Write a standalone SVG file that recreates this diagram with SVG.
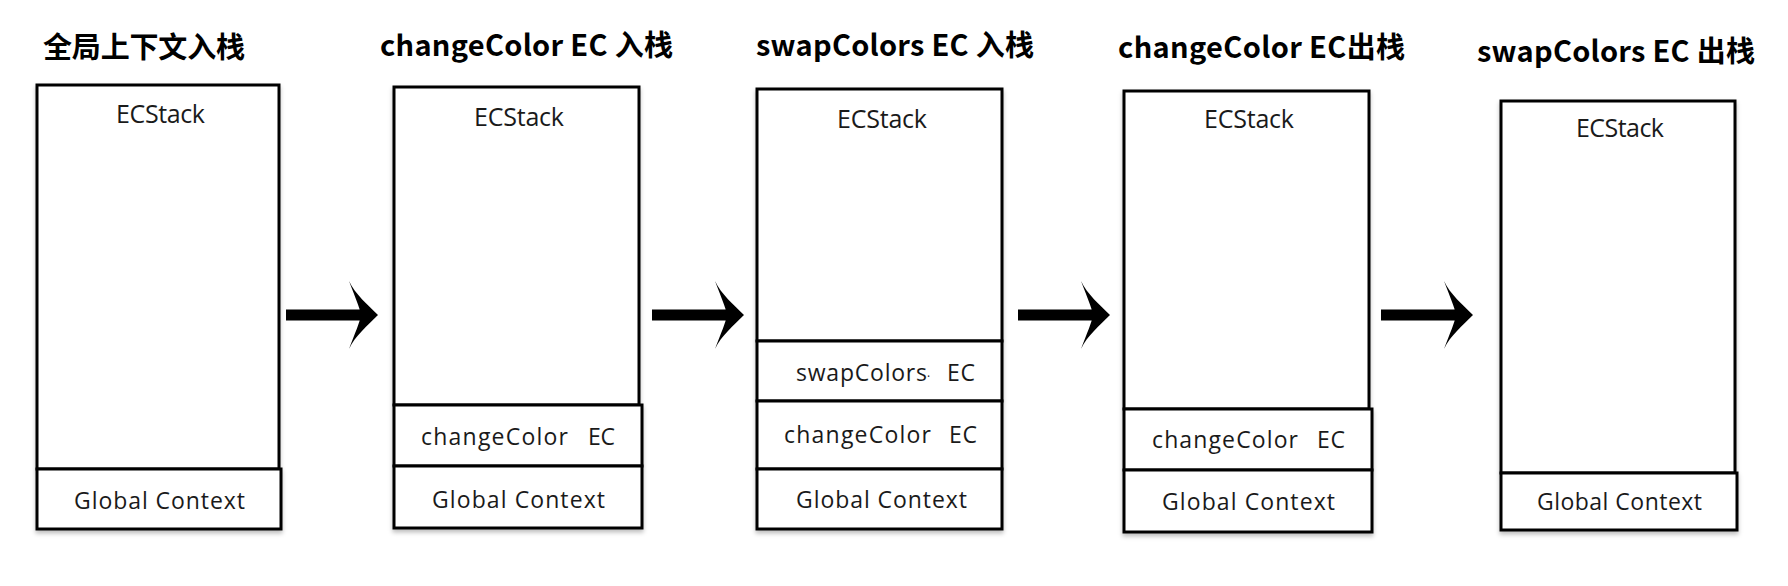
<svg xmlns="http://www.w3.org/2000/svg" width="1788" height="586" viewBox="0 0 1788 586">
<style>
.bg{fill:#ffffff}
.box{fill:#ffffff;stroke:#000;stroke-width:3}
.title{font-family:"Noto Sans CJK SC","Noto Sans",sans-serif;font-weight:bold;font-size:29px;fill:#000}
.lbl{font-family:"Open Sans","Noto Sans",sans-serif;font-size:23px;font-weight:500;fill:#1a1a1a}
.hd{font-size:25px}
.arrow{fill:#000}
</style>
<defs>
<filter id="sh" x="-10%" y="-10%" width="120%" height="120%">
<feDropShadow dx="0" dy="3" stdDeviation="2" flood-color="#000" flood-opacity="0.25"/>
</filter>
<path id="arr" d="M0,-5.5 L0,5.5 L80,5.5 L80,-5.5 Z M92,0 C82,-10 69,-21 63,-34 C69,-18 74,-7 75,0 C74,7 69,18 63,34 C69,21 82,10 92,0 Z"/>
</defs>
<rect class="bg" x="0" y="0" width="1788" height="586"/>

<g id="stage1">
<text class="title" x="43" y="58" textLength="202">全局上下文入栈</text>
<g filter="url(#sh)">
<rect class="box" x="37" y="85" width="242" height="384"/>
<rect class="box" x="37" y="469" width="244" height="60"/>
</g>
<text class="lbl hd" x="116" y="123" textLength="89">ECStack</text>
<text class="lbl" x="74" y="509" textLength="171">Global Context</text>
</g>

<g id="stage2">
<text class="title" x="380" y="56" textLength="293">changeColor EC 入栈</text>
<g filter="url(#sh)">
<rect class="box" x="394" y="87" width="245" height="318"/>
<rect class="box" x="394" y="405" width="248" height="61"/>
<rect class="box" x="394" y="466" width="248" height="62"/>
</g>
<text class="lbl hd" x="474" y="126" textLength="90">ECStack</text>
<text class="lbl" y="445"><tspan x="421" textLength="147">changeColor</tspan><tspan x="588" textLength="27">EC</tspan></text>
<text class="lbl" x="432" y="508" textLength="173">Global Context</text>
</g>

<g id="stage3">
<text class="title" x="756" y="56" textLength="278">swapColors EC 入栈</text>
<g filter="url(#sh)">
<rect class="box" x="757" y="89" width="245" height="252"/>
<rect class="box" x="757" y="341" width="245" height="60"/>
<rect class="box" x="757" y="401" width="245" height="68"/>
<rect class="box" x="757" y="469" width="245" height="60"/>
</g>
<text class="lbl hd" x="837" y="128" textLength="90">ECStack</text>
<text class="lbl" y="381"><tspan x="796" textLength="131">swapColors</tspan><tspan x="927" font-size="12">·</tspan><tspan x="947" textLength="28">EC</tspan></text>
<text class="lbl" y="443"><tspan x="784" textLength="147">changeColor</tspan><tspan x="949" textLength="28">EC</tspan></text>
<text class="lbl" x="796" y="508" textLength="171">Global Context</text>
</g>

<g id="stage4">
<text class="title" x="1118" y="58" textLength="287">changeColor EC出栈</text>
<g filter="url(#sh)">
<rect class="box" x="1124" y="91" width="245" height="318"/>
<rect class="box" x="1124" y="409" width="248" height="61"/>
<rect class="box" x="1124" y="470" width="248" height="62"/>
</g>
<text class="lbl hd" x="1204" y="128" textLength="90">ECStack</text>
<text class="lbl" y="448"><tspan x="1152" textLength="146">changeColor</tspan><tspan x="1317" textLength="28">EC</tspan></text>
<text class="lbl" x="1162" y="510" textLength="173">Global Context</text>
</g>

<g id="stage5">
<text class="title" x="1477" y="62" textLength="278">swapColors EC 出栈</text>
<g filter="url(#sh)">
<rect class="box" x="1501" y="101" width="234" height="372"/>
<rect class="box" x="1501" y="473" width="236" height="57"/>
</g>
<text class="lbl hd" x="1576" y="137" textLength="88">ECStack</text>
<text class="lbl" x="1537" y="510" textLength="165">Global Context</text>
</g>

<g id="connectors" class="arrow">
<use href="#arr" transform="translate(286,315)"/>
<use href="#arr" transform="translate(652,315)"/>
<use href="#arr" transform="translate(1018,315)"/>
<use href="#arr" transform="translate(1381,315)"/>
</g>
</svg>
